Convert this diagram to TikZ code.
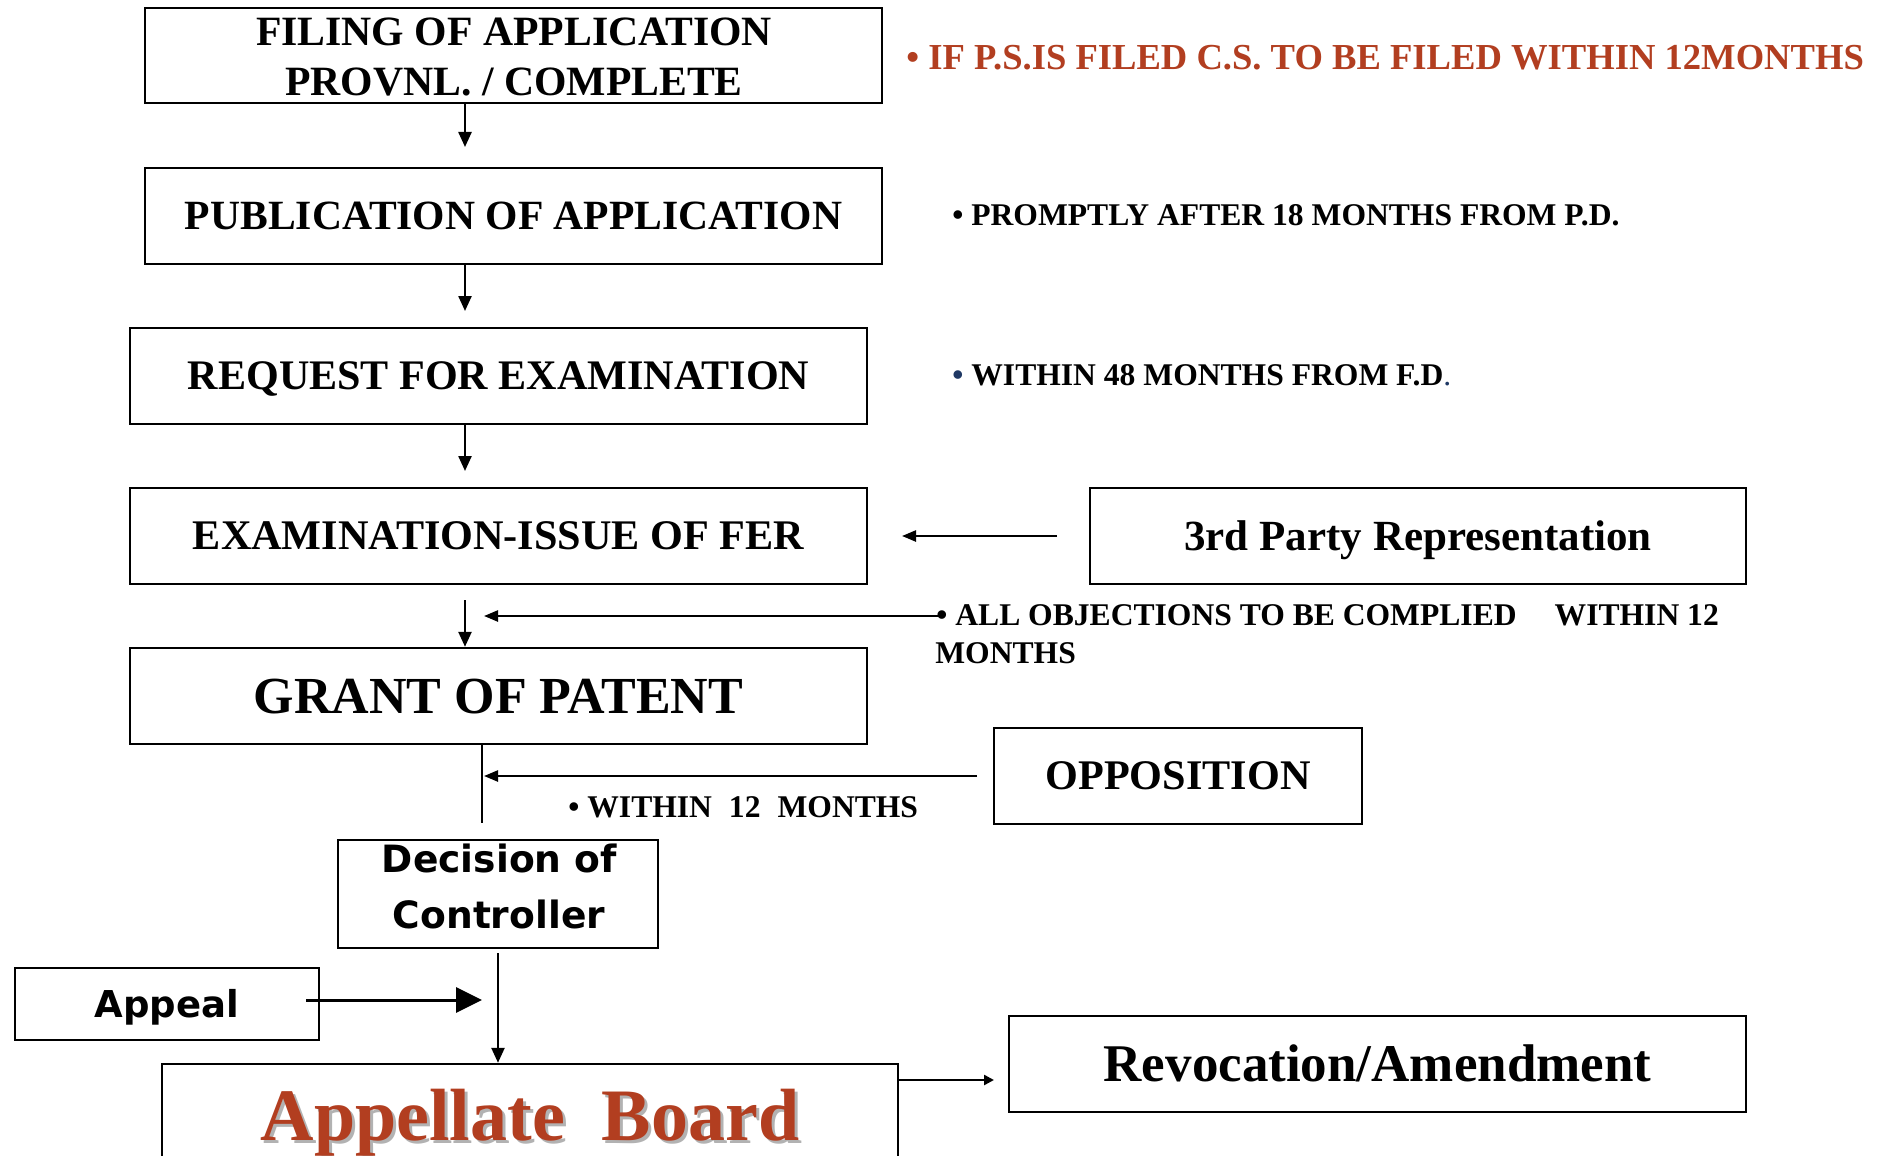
\documentclass[tikz,border=0pt]{standalone}
\usepackage{fontspec}
\setmainfont{Liberation Serif}
\newfontfamily\dvs{DejaVu Sans}
\usetikzlibrary{arrows.meta}
\definecolor{ppred}{RGB}{178,62,32}
\definecolor{navy}{RGB}{31,56,100}
\begin{document}
\begin{tikzpicture}[x=0.5pt,y=-0.5pt,
  box/.style={draw, line width=1.2pt, inner sep=0pt, text depth=0pt, font=\bfseries},
  f21/.style={font=\bfseries\fontsize{#1}{25}\selectfont, text height=0.655*#1 pt},
  wide/.style={minimum width=368.5pt, minimum height=48pt},
  note/.style={inner sep=0pt, anchor=base west, font=\bfseries\fontsize{15.8}{19}\selectfont},
  arr/.style={line width=1.2pt, -{Triangle[length=7.5pt,width=6.5pt]}},
  larr/.style={line width=1.2pt, -{Triangle[length=7pt,width=5.5pt]}},
  bigarr/.style={line width=1.5pt, -{Triangle[length=13pt,width=12.5pt]}},
  smarr/.style={line width=1.2pt, -{Triangle[length=5pt,width=5pt]}},
  sansb/.style={inner sep=0pt, anchor=base, font=\dvs\bfseries\fontsize{18.8}{22}\selectfont}
]
\useasboundingbox (0,0) rectangle (1891,1156);
\fill[white] (0,0) rectangle (1891,1156);
\begin{scope}
\clip (0,0) rectangle (1891,1156);

% boxes
\node[box, minimum width=368.5pt, minimum height=47.5pt] (filing) at (513.5,55.5) {};
\node[inner sep=0pt, anchor=base, font=\bfseries\fontsize{20.85}{25}\selectfont] (fil1) at (514,46) {FILING OF APPLICATION};
\node[inner sep=0pt, anchor=base, font=\bfseries\fontsize{20.85}{25}\selectfont] (fil2) at (514,96) {PROVNL. / COMPLETE};

\node[box, wide, f21=20.8] (pub) at (513.5,216) {PUBLICATION OF APPLICATION};
\node[box, wide, f21=21.05] (req) at (498.5,376) {REQUEST FOR EXAMINATION};
\node[box, wide, f21=21.1] (exam) at (498.5,536) {EXAMINATION-ISSUE OF FER};
\node[box, wide, f21=26] (grant) at (498.5,696) {GRANT OF PATENT};
\node[box, minimum width=328pt, minimum height=48pt, f21=21.5] (third) at (1418,536) {3rd Party Representation};
\node[box, minimum width=184pt, minimum height=48pt, f21=21.1] (opp) at (1178,776) {OPPOSITION};
\node[box, wide, f21=26.5] (revo) at (1377.5,1064) {Revocation/Amendment};

\node[box, minimum width=160pt, minimum height=54pt] (dec) at (498,894) {};
\node[sansb] (dec1) at (499.5,872) {Decision of};
\node[sansb] (dec2) at (499,928) {Controller};

\node[box, minimum width=152pt, minimum height=36pt, font=\dvs\bfseries\fontsize{18.5}{22}\selectfont, text height=13.5pt] (appeal) at (167,1004) {Appeal};

\node[box, minimum width=368pt, minimum height=75pt] (appel) at (530,1139) {};
\node[inner sep=0pt, anchor=base, text=black!30, font=\bfseries\fontsize{37}{40}\selectfont] (apsh) at (533,1143) {Appellate\hspace{0.5em}Board};
\node[inner sep=0pt, anchor=base, text=ppred, font=\bfseries\fontsize{37}{40}\selectfont] (aptxt) at (530,1140) {Appellate\hspace{0.5em}Board};

% notes
\node[inner sep=0pt, anchor=base west, text=ppred, font=\bfseries\fontsize{18.3}{22}\selectfont] (n1) at (906,70) {\textbullet\ IF P.S.IS FILED C.S. TO BE FILED WITHIN 12MONTHS};
\node[note] (n2) at (952,225) {\textbullet\ PROMPTLY AFTER 18 MONTHS FROM P.D.};
\node[note] (n3) at (952,385) {{\color{navy}\textbullet}\ WITHIN 48 MONTHS FROM F.D{\color{navy}\mdseries.}};
\node[note] (n4) at (936,625) {\textbullet\ ALL OBJECTIONS TO BE COMPLIED\hspace{19pt}WITHIN 12};
\node[note] (n5) at (935,663) {MONTHS};
\node[note] (n6) at (568,817) {\textbullet\ WITHIN\hspace{8.5pt}12\hspace{8.5pt}MONTHS};

% connectors
\coordinate (t1) at (465,147);
\coordinate (t2) at (465,311);
\coordinate (t3) at (465,471);
\coordinate (s4) at (465,600);
\draw[arr] (filing.south -| t1) -- (t1);
\draw[arr] (pub.south -| t2) -- (t2);
\draw[arr] (req.south -| t3) -- (t3);
\draw[arr] (s4) -- (s4 |- grant.north);

\coordinate (s5) at (1057,536);
\coordinate (t5) at (902,536);
\draw[larr] (s5) -- (t5);

\coordinate (s6) at (940,616);
\coordinate (t6) at (484,616);
\draw[larr] (s6) -- (t6);

\coordinate (e7) at (482,823);
\draw[line width=0.7pt] (grant.south -| e7) -- (e7);

\coordinate (s8) at (977,776);
\coordinate (t8) at (484,776);
\draw[larr] (s8) -- (t8);

\coordinate (s9) at (498,953);
\draw[arr] (s9) -- (s9 |- appel.north);

\coordinate (s10) at (306,1000);
\coordinate (t10) at (482,1000);
\draw[bigarr] (s10) -- (t10);

\coordinate (s11) at (898,1080);
\coordinate (t11) at (994,1080);
\draw[smarr] (s11) -- (t11);
\end{scope}
\end{tikzpicture}
\end{document}
